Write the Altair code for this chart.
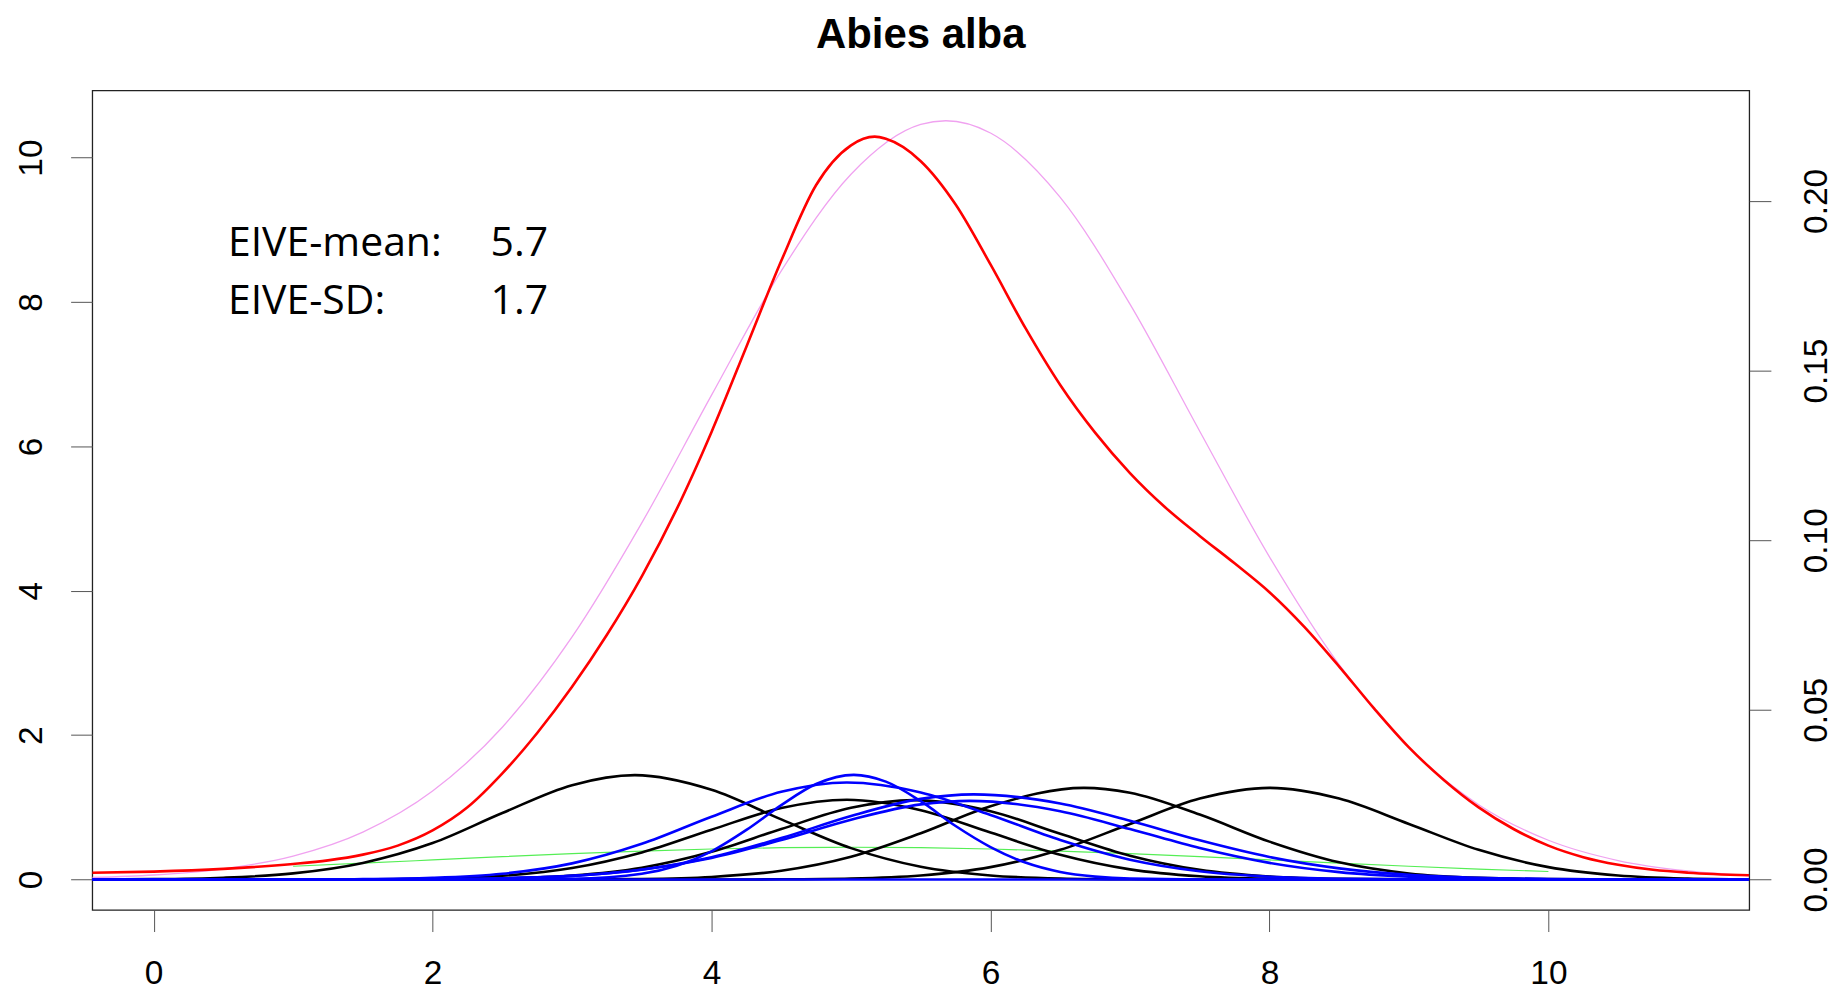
import altair as alt
import pandas as pd

# ---------------- data ----------------
TITLE = "Abies alba"
X_TICKS = [0, 2, 4, 6, 8, 10]
Y_TICKS = [0, 2, 4, 6, 8, 10]
RIGHT_TICKS = [0.00, 0.05, 0.10, 0.15, 0.20]

# black component curves
black_a_x = [-0.44, 0, 0.5, 1, 1.5, 2, 2.5, 3, 3.45, 4, 4.5, 5, 5.5, 6, 6.5, 7, 7.5, 8, 11.44]
black_a_y = [0.001, 0.005, 0.025, 0.085, 0.23, 0.505, 0.921, 1.307, 1.446, 1.243, 0.833, 0.435, 0.177, 0.056, 0.014, 0.003, 0.0005, 0, 0]

black_b_x = [-0.44, 1, 1.5, 2, 2.5, 3, 3.5, 4, 4.5, 4.97, 5.5, 6, 6.5, 7, 7.5, 8, 8.5, 9, 11.44]
black_b_y = [0, 0.0004, 0.003, 0.013, 0.052, 0.159, 0.375, 0.690, 0.990, 1.105, 0.960, 0.650, 0.343, 0.141, 0.045, 0.011, 0.002, 0, 0]

black_c_x = [-0.44, 1.5, 2, 2.5, 3, 3.5, 4, 4.5, 5, 5.45, 6, 6.5, 7, 7.5, 8, 8.5, 9, 9.5, 11.44]
black_c_y = [0, 0, 0.003, 0.014, 0.055, 0.164, 0.384, 0.700, 0.994, 1.10, 0.946, 0.634, 0.331, 0.135, 0.043, 0.010, 0.002, 0, 0]

black_d_x = [-0.44, 3, 3.5, 4, 4.5, 5, 5.5, 6, 6.67, 7, 7.5, 8, 8.5, 9, 9.5, 10, 10.5, 11, 11.44]
black_d_y = [0, 0.002, 0.008, 0.036, 0.121, 0.315, 0.640, 1.015, 1.27, 1.203, 0.900, 0.525, 0.238, 0.084, 0.023, 0.005, 0.001, 0, 0]

black_e_x = [-0.44, 4, 4.5, 5, 5.5, 6, 6.5, 7, 7.5, 8, 8.5, 9, 9.5, 10, 10.5, 11, 11.44]
black_e_y = [0, 0.0004, 0.003, 0.014, 0.056, 0.172, 0.412, 0.770, 1.121, 1.27, 1.121, 0.770, 0.412, 0.172, 0.056, 0.014, 0.003]

# blue component curves
blue_n_x = [-0.44, 2.5, 3, 3.5, 3.75, 4, 4.25, 4.5, 4.75, 5.02, 5.25, 5.5, 5.75, 6, 6.25, 6.5, 6.75, 7, 7.5, 11.44]
blue_n_y = [0, 0.0005, 0.0085, 0.079, 0.190, 0.391, 0.687, 1.031, 1.323, 1.45, 1.356, 1.085, 0.741, 0.45, 0.235, 0.105, 0.04, 0.012, 0.001, 0]

blue_w_x = [-0.44, 1, 1.5, 2, 2.5, 3, 3.5, 4, 4.5, 4.97, 5.5, 6, 6.5, 7, 7.5, 8, 8.5, 9, 9.5, 11.44]
blue_w_y = [0, 0.001, 0.005, 0.023, 0.080, 0.224, 0.495, 0.870, 1.215, 1.345, 1.207, 0.894, 0.547, 0.275, 0.115, 0.039, 0.011, 0.003, 0.0005, 0]

blue_p_x = [-0.44, 1.5, 2, 2.5, 3, 3.5, 4, 4.5, 5, 5.5, 5.88, 6.5, 7, 7.5, 8, 8.5, 9, 9.5, 10, 10.5, 11, 11.44]
blue_p_y = [0, 0.001, 0.004, 0.016, 0.051, 0.139, 0.310, 0.574, 0.880, 1.117, 1.18, 1.053, 0.814, 0.543, 0.312, 0.155, 0.066, 0.024, 0.008, 0.002, 0.0005, 0]

blue_q_x = [-0.44, 1.5, 2, 2.5, 3, 3.5, 4, 4.5, 5, 5.5, 5.85, 6.5, 7, 7.5, 8, 8.5, 9, 9.5, 10, 10.5, 11.44]
blue_q_y = [0, 0.001, 0.004, 0.016, 0.051, 0.135, 0.299, 0.547, 0.829, 1.041, 1.09, 0.946, 0.699, 0.437, 0.231, 0.103, 0.039, 0.012, 0.003, 0.001, 0]

blue_zero_x = [-0.44, 11.44]
blue_zero_y = [0, 0]

# green curve
green_x = [1, 1.5, 2, 2.5, 3, 3.5, 4, 4.5, 5, 5.5, 6, 6.5, 7, 7.5, 8, 8.5, 9, 9.5, 10]
green_y = [0.184, 0.226, 0.271, 0.316, 0.358, 0.394, 0.423, 0.441, 0.447, 0.441, 0.423, 0.394, 0.358, 0.316, 0.271, 0.226, 0.184, 0.145, 0.111]

# red curve
red_x = [-0.44, 0, 0.5, 1.0, 1.25, 1.5, 1.75, 2.0, 2.25, 2.5, 2.75, 3.0, 3.25, 3.5, 3.75, 4.0, 4.25, 4.5, 4.75, 5.0, 5.17,
         5.25, 5.5, 5.75, 6.0, 6.25, 6.5, 6.75, 7.0, 7.25, 7.5, 7.75, 8.0, 8.25, 8.5, 8.75, 9.0, 9.25, 9.5, 9.75,
         10.0, 10.25, 10.5, 10.75, 11.0, 11.44]
red_y = [0.093, 0.11, 0.148, 0.215, 0.265, 0.345, 0.47, 0.68, 1.0, 1.47, 2.03, 2.67, 3.39, 4.2, 5.13, 6.2, 7.38, 8.57, 9.62, 10.17, 10.29,
         10.26, 9.95, 9.35, 8.52, 7.64, 6.85, 6.19, 5.63, 5.16, 4.76, 4.38, 3.98, 3.50, 2.95, 2.37, 1.83, 1.38, 1.0, 0.70,
         0.47, 0.31, 0.205, 0.135, 0.095, 0.06]

# violet curve
violet_x = [-0.44, 0, 0.5, 1, 1.5, 2, 2.5, 3, 3.5, 4, 4.5, 5, 5.5, 5.68, 6, 6.5, 7, 7.5, 8, 8.5, 9, 9.5, 10, 10.5, 11, 11.44]
violet_y = [0.028, 0.063, 0.149, 0.325, 0.657, 1.226, 2.11, 3.36, 4.94, 6.71, 8.43, 9.77, 10.46, 10.51, 10.34, 9.45, 7.97, 6.21, 4.47, 2.975, 1.827, 1.037, 0.544, 0.263, 0.118, 0.054]

ANNOT_LABELS = ["EIVE-mean:", "EIVE-SD:"]
ANNOT_VALUES = ["5.7", "1.7"]

# ---------------- layout / style ----------------
X_DOMAIN = [-0.44, 11.44]
Y_DOMAIN = [-0.4204, 10.9304]
RIGHT_FACTOR = 47.0
R_DOMAIN = [Y_DOMAIN[0] / RIGHT_FACTOR, Y_DOMAIN[1] / RIGHT_FACTOR]

PLOT_W = 1661.5
PLOT_H = 821.7
AXIS_FONT = "Liberation Sans"
LABEL_SIZE = 33.5
TICK_SIZE = 21.7
TICK_COLOR = "#555555"


def frame(pairs):
    rows = []
    for name, xs, ys in pairs:
        for xv, yv in zip(xs, ys):
            rows.append({"x": xv, "y": yv, "curve": name})
    return pd.DataFrame(rows)


x_enc = alt.X(
    "x:Q",
    scale=alt.Scale(domain=X_DOMAIN, nice=False, zero=False),
    axis=alt.Axis(values=X_TICKS, title=None, grid=False, domain=False,
                  tickSize=TICK_SIZE, tickColor=TICK_COLOR, tickWidth=1,
                  labelFont=AXIS_FONT, labelFontSize=LABEL_SIZE, labelColor="black",
                  labelPadding=26, labelFlush=False, labelOverlap=False, format="d"),
)
y_enc = alt.Y(
    "y:Q",
    scale=alt.Scale(domain=Y_DOMAIN, nice=False, zero=False),
    axis=alt.Axis(values=Y_TICKS, title=None, grid=False, domain=False,
                  tickSize=TICK_SIZE, tickColor=TICK_COLOR, tickWidth=1,
                  labelFont=AXIS_FONT, labelFontSize=LABEL_SIZE, labelColor="black",
                  labelAngle=270, labelAlign="center", labelBaseline="alphabetic",
                  labelPadding=29.3, labelFlush=False, labelOverlap=False, format="d"),
)


def lines(df, color, width):
    return alt.Chart(df).mark_line(color=color, strokeWidth=width, interpolate="monotone", clip=True).encode(
        x=x_enc, y=y_enc, detail="curve:N"
    )


violet_df = frame([("violet", violet_x, violet_y)])
green_df = frame([("green", green_x, green_y)])
black_df = frame([
    ("a", black_a_x, black_a_y), ("b", black_b_x, black_b_y), ("c", black_c_x, black_c_y),
    ("d", black_d_x, black_d_y), ("e", black_e_x, black_e_y),
])
blue_df = frame([
    ("zero", blue_zero_x, blue_zero_y), ("n", blue_n_x, blue_n_y), ("w", blue_w_x, blue_w_y),
    ("p", blue_p_x, blue_p_y), ("q", blue_q_x, blue_q_y),
])
red_df = frame([("red", red_x, red_y)])

annot_df = pd.DataFrame({
    "x": [0.533, 0.533, 2.416, 2.416],
    "y": [8.63, 7.84, 8.63, 7.84],
    "t": ANNOT_LABELS + ANNOT_VALUES,
})
annot = alt.Chart(annot_df).mark_text(
    align="left", baseline="alphabetic", font="Open Sans", fontSize=41, color="black"
).encode(x=x_enc, y=y_enc, text="t:N")

title_mark = alt.Chart(pd.DataFrame({"t": [TITLE]})).mark_text(
    align="center", baseline="alphabetic", font=AXIS_FONT, fontSize=42, fontWeight="bold", color="black"
).encode(x=alt.value(PLOT_W / 2), y=alt.value(-42.5), text="t:N")

main = alt.layer(
    lines(violet_df, "#F0A2F0", 1.3),
    lines(green_df, "#55EE55", 1.2),
    lines(black_df, "black", 2.6),
    lines(blue_df, "#0000FF", 2.6),
    lines(red_df, "#FF0000", 2.6),
    annot,
    title_mark,
)

right_df = pd.DataFrame({"r": RIGHT_TICKS})
right = alt.Chart(right_df).mark_point(opacity=0).encode(
    y=alt.Y(
        "r:Q",
        scale=alt.Scale(domain=R_DOMAIN, nice=False, zero=False),
        axis=alt.Axis(orient="right", values=RIGHT_TICKS, format=".2f", title=None, grid=False, domain=False,
                      tickSize=TICK_SIZE, tickColor=TICK_COLOR, tickWidth=1,
                      labelFont=AXIS_FONT, labelFontSize=LABEL_SIZE, labelColor="black",
                      labelAngle=270, labelAlign="center", labelBaseline="alphabetic",
                      labelPadding=55.6, labelFlush=False, labelOverlap=False),
    )
)

chart = alt.layer(main, right).resolve_scale(y="independent").properties(
    width=PLOT_W,
    height=PLOT_H,
    padding={"left": 84.5, "top": 81.3, "right": 90, "bottom": 82},
    autosize=alt.AutoSizeParams(type="none"),
).configure_view(stroke="#222222", strokeWidth=1.3)

chart.save("out.html", embed_options={"renderer": "svg", "actions": False})
